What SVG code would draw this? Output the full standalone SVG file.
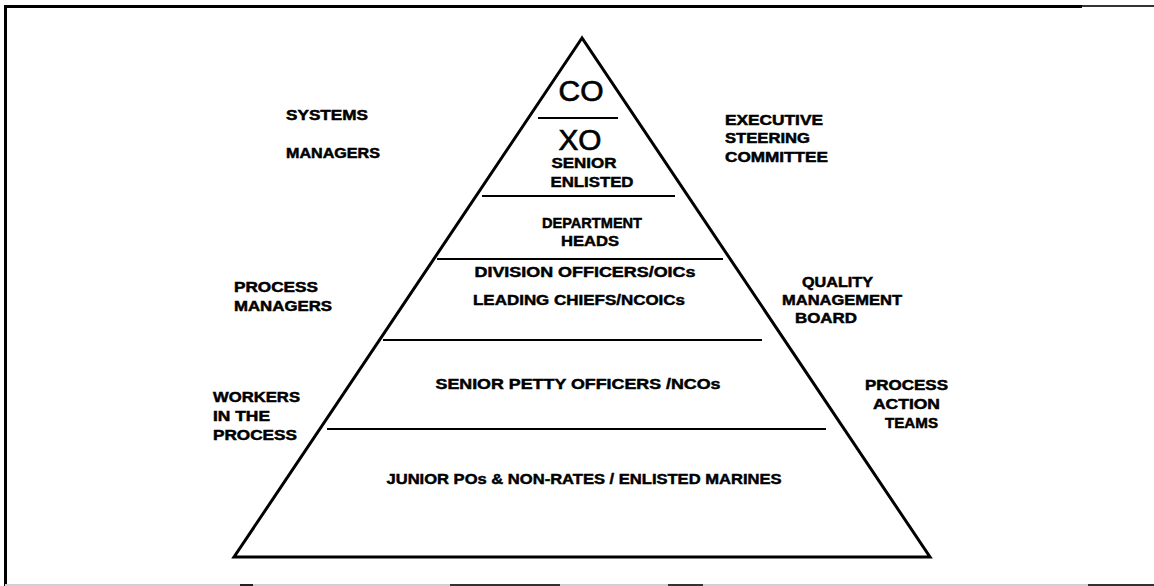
<svg xmlns="http://www.w3.org/2000/svg" width="1154" height="586" viewBox="0 0 1154 586">
<style>
.lbl{font-family:"Liberation Sans",Arial,sans-serif;font-weight:bold;font-size:15px;fill:#000;stroke:#000;stroke-width:0.5}
.in{font-family:"Liberation Sans",Arial,sans-serif;font-weight:bold;font-size:14px;fill:#000;stroke:#000;stroke-width:0.45;text-anchor:middle}
.big{font-family:"Liberation Sans",Arial,sans-serif;font-size:29px;fill:#000;stroke:#000;stroke-width:0.7;text-anchor:middle}
.tier{stroke:#000;stroke-width:2.2;fill:none}
</style>
<rect width="1154" height="586" fill="#fff"/>
<g id="frame">
<line x1="5" y1="6.5" x2="1082" y2="6.5" stroke="#000" stroke-width="3"/>
<line x1="1082" y1="6" x2="1154" y2="6" stroke="#333" stroke-width="2"/>
<line x1="5.5" y1="5" x2="5.5" y2="586" stroke="#000" stroke-width="3"/>
<line x1="5" y1="585" x2="1154" y2="585" stroke="#d0d0d0" stroke-width="2"/>
<line x1="240" y1="585" x2="253" y2="585" stroke="#222" stroke-width="2"/>
<line x1="450" y1="585" x2="560" y2="585" stroke="#333" stroke-width="2"/>
<line x1="668" y1="585" x2="703" y2="585" stroke="#333" stroke-width="2"/>
<line x1="1088" y1="585" x2="1154" y2="585" stroke="#333" stroke-width="2"/>
</g>
<g id="pyramid">
<polygon points="582,38 234,557 930,557" fill="none" stroke="#000" stroke-width="3"/>
<line class="tier" x1="538" y1="118" x2="618" y2="118"/>
<line class="tier" x1="482" y1="196" x2="675" y2="196"/>
<line class="tier" x1="437" y1="259" x2="723" y2="259"/>
<line class="tier" x1="383" y1="340" x2="762" y2="340"/>
<line class="tier" x1="327" y1="429" x2="826" y2="429"/>
</g>
<g id="tier-co"><text class="big" x="581" y="101" textLength="45" lengthAdjust="spacingAndGlyphs">CO</text></g>
<g id="tier-xo">
<text class="big" x="580" y="150" textLength="43" lengthAdjust="spacingAndGlyphs">XO</text>
<text class="in" x="584" y="168" textLength="65" lengthAdjust="spacingAndGlyphs">SENIOR</text>
<text class="in" x="592" y="187" textLength="83" lengthAdjust="spacingAndGlyphs">ENLISTED</text>
</g>
<g id="tier-dept">
<text class="in" x="592" y="228" textLength="100" lengthAdjust="spacingAndGlyphs">DEPARTMENT</text>
<text class="in" x="590" y="246" textLength="58" lengthAdjust="spacingAndGlyphs">HEADS</text>
</g>
<g id="tier-div">
<text class="in" x="585" y="277" textLength="221" lengthAdjust="spacingAndGlyphs">DIVISION  OFFICERS/OICs</text>
<text class="in" x="579" y="305" textLength="212" lengthAdjust="spacingAndGlyphs">LEADING CHIEFS/NCOICs</text>
</g>
<g id="tier-spo"><text class="in" x="578" y="389" textLength="285" lengthAdjust="spacingAndGlyphs">SENIOR  PETTY  OFFICERS /NCOs</text></g>
<g id="tier-jr"><text class="in" x="584" y="484" textLength="395" lengthAdjust="spacingAndGlyphs">JUNIOR POs &amp; NON-RATES / ENLISTED MARINES</text></g>
<g id="systems-managers">
<text class="lbl" x="286" y="120" textLength="82" lengthAdjust="spacingAndGlyphs">SYSTEMS</text>
<text class="lbl" x="286" y="158" textLength="94" lengthAdjust="spacingAndGlyphs">MANAGERS</text>
</g>
<g id="process-managers">
<text class="lbl" x="234" y="292" textLength="84" lengthAdjust="spacingAndGlyphs">PROCESS</text>
<text class="lbl" x="234" y="311" textLength="98" lengthAdjust="spacingAndGlyphs">MANAGERS</text>
</g>
<g id="workers">
<text class="lbl" x="213" y="402" textLength="87" lengthAdjust="spacingAndGlyphs">WORKERS</text>
<text class="lbl" x="213" y="421" textLength="57" lengthAdjust="spacingAndGlyphs">IN THE</text>
<text class="lbl" x="213" y="440" textLength="84" lengthAdjust="spacingAndGlyphs">PROCESS</text>
</g>
<g id="esc">
<text class="lbl" x="725" y="125" textLength="98" lengthAdjust="spacingAndGlyphs">EXECUTIVE</text>
<text class="lbl" x="725" y="143" textLength="85" lengthAdjust="spacingAndGlyphs">STEERING</text>
<text class="lbl" x="725" y="162" textLength="103" lengthAdjust="spacingAndGlyphs">COMMITTEE</text>
</g>
<g id="qmb">
<text class="lbl" x="802" y="287" textLength="71" lengthAdjust="spacingAndGlyphs">QUALITY</text>
<text class="lbl" x="782" y="305" textLength="120" lengthAdjust="spacingAndGlyphs">MANAGEMENT</text>
<text class="lbl" x="795" y="323" textLength="62" lengthAdjust="spacingAndGlyphs">BOARD</text>
</g>
<g id="pat">
<text class="lbl" x="865" y="390" textLength="83" lengthAdjust="spacingAndGlyphs">PROCESS</text>
<text class="lbl" x="873" y="409" textLength="67" lengthAdjust="spacingAndGlyphs">ACTION</text>
<text class="lbl" x="885" y="428" textLength="53" lengthAdjust="spacingAndGlyphs">TEAMS</text>
</g>
</svg>
